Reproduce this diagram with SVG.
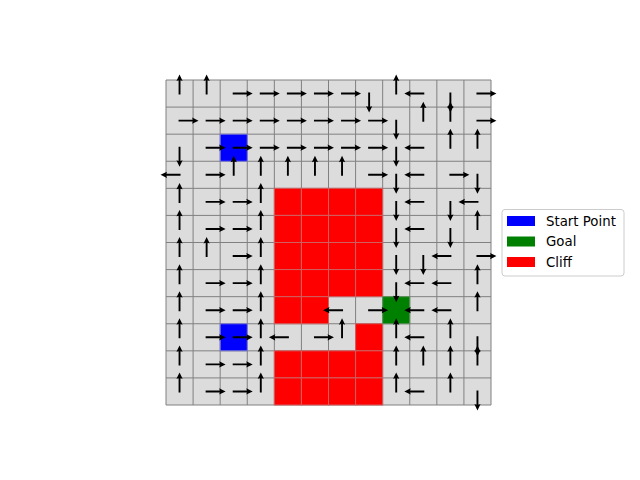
<svg xmlns="http://www.w3.org/2000/svg" xmlns:xlink="http://www.w3.org/1999/xlink" width="640" height="480" viewBox="0 0 640 480">
<style>
.bg{fill:#dcdcdc}
.grid{fill:none;stroke:#808080;stroke-width:1}
.start{fill:#0000ff;stroke:#7f7fd0;stroke-width:1}
.goal{fill:#008000;stroke:#5f8f5f;stroke-width:1}
.cliff{fill:#ff0000;stroke:#d06060;stroke-width:1}
.lgtxt{font-family:"DejaVu Sans",sans-serif;font-size:13.33px;fill:#000}
</style>
<defs>
<path id="a" d="M-1,-0.95 H13.2 L12.6,-3.1 L19,0 L12.6,3.1 L13.2,0.95 H-1 Z" fill="#000"/>
</defs>
<rect width="640" height="480" fill="#fff"/>
<g id="board">
<rect class="bg" x="166" y="80" width="325" height="325"/>
<path class="grid" d="M166,80V405M193.08,80V405M220.17,80V405M247.25,80V405M274.33,80V405M301.42,80V405M328.5,80V405M355.58,80V405M382.67,80V405M409.75,80V405M436.83,80V405M463.92,80V405M491,80V405M166,80H491M166,107.08H491M166,134.17H491M166,161.25H491M166,188.33H491M166,215.42H491M166,242.5H491M166,269.58H491M166,296.67H491M166,323.75H491M166,350.83H491M166,377.92H491M166,405H491"/>
</g>
<g id="cliff">
<rect class="cliff" x="274.33" y="188.33" width="27.08" height="27.08"/><rect class="cliff" x="301.42" y="188.33" width="27.08" height="27.08"/><rect class="cliff" x="328.5" y="188.33" width="27.08" height="27.08"/><rect class="cliff" x="355.58" y="188.33" width="27.08" height="27.08"/>
<rect class="cliff" x="274.33" y="215.42" width="27.08" height="27.08"/><rect class="cliff" x="301.42" y="215.42" width="27.08" height="27.08"/><rect class="cliff" x="328.5" y="215.42" width="27.08" height="27.08"/><rect class="cliff" x="355.58" y="215.42" width="27.08" height="27.08"/>
<rect class="cliff" x="274.33" y="242.5" width="27.08" height="27.08"/><rect class="cliff" x="301.42" y="242.5" width="27.08" height="27.08"/><rect class="cliff" x="328.5" y="242.5" width="27.08" height="27.08"/><rect class="cliff" x="355.58" y="242.5" width="27.08" height="27.08"/>
<rect class="cliff" x="274.33" y="269.58" width="27.08" height="27.08"/><rect class="cliff" x="301.42" y="269.58" width="27.08" height="27.08"/><rect class="cliff" x="328.5" y="269.58" width="27.08" height="27.08"/><rect class="cliff" x="355.58" y="269.58" width="27.08" height="27.08"/>
<rect class="cliff" x="274.33" y="296.67" width="27.08" height="27.08"/><rect class="cliff" x="301.42" y="296.67" width="27.08" height="27.08"/>
<rect class="cliff" x="355.58" y="323.75" width="27.08" height="27.08"/>
<rect class="cliff" x="274.33" y="350.83" width="27.08" height="27.08"/><rect class="cliff" x="301.42" y="350.83" width="27.08" height="27.08"/><rect class="cliff" x="328.5" y="350.83" width="27.08" height="27.08"/><rect class="cliff" x="355.58" y="350.83" width="27.08" height="27.08"/>
<rect class="cliff" x="274.33" y="377.92" width="27.08" height="27.08"/><rect class="cliff" x="301.42" y="377.92" width="27.08" height="27.08"/><rect class="cliff" x="328.5" y="377.92" width="27.08" height="27.08"/><rect class="cliff" x="355.58" y="377.92" width="27.08" height="27.08"/>
</g>
<g id="start1"><rect class="start" x="220.17" y="134.17" width="27.08" height="27.08"/></g>
<g id="start2"><rect class="start" x="220.17" y="323.75" width="27.08" height="27.08"/></g>
<g id="goal"><rect class="goal" x="382.67" y="296.67" width="27.08" height="27.08"/></g>
<g id="arrows">
<!-- row 0 -->
<use href="#a" transform="translate(179.54 93.54) rotate(-90)"/><use href="#a" transform="translate(206.63 93.54) rotate(-90)"/><use href="#a" transform="translate(233.71 93.54)"/><use href="#a" transform="translate(260.79 93.54)"/><use href="#a" transform="translate(287.88 93.54)"/><use href="#a" transform="translate(314.96 93.54)"/><use href="#a" transform="translate(342.04 93.54)"/><use href="#a" transform="translate(369.13 93.54) rotate(90)"/><use href="#a" transform="translate(396.21 93.54) rotate(-90)"/><use href="#a" transform="translate(423.29 93.54) rotate(180)"/><use href="#a" transform="translate(450.38 93.54) rotate(90)"/><use href="#a" transform="translate(477.46 93.54)"/>
<!-- row 1 -->
<use href="#a" transform="translate(179.54 120.63)"/><use href="#a" transform="translate(206.63 120.63)"/><use href="#a" transform="translate(233.71 120.63)"/><use href="#a" transform="translate(260.79 120.63)"/><use href="#a" transform="translate(287.88 120.63)"/><use href="#a" transform="translate(314.96 120.63)"/><use href="#a" transform="translate(342.04 120.63)"/><use href="#a" transform="translate(369.13 120.63)"/><use href="#a" transform="translate(396.21 120.63) rotate(90)"/><use href="#a" transform="translate(423.29 120.63) rotate(-90)"/><use href="#a" transform="translate(450.38 120.63) rotate(-90)"/><use href="#a" transform="translate(477.46 120.63)"/>
<!-- row 2 -->
<use href="#a" transform="translate(179.54 147.71) rotate(90)"/><use href="#a" transform="translate(206.63 147.71)"/><use href="#a" transform="translate(233.71 147.71)"/><use href="#a" transform="translate(260.79 147.71)"/><use href="#a" transform="translate(287.88 147.71)"/><use href="#a" transform="translate(314.96 147.71)"/><use href="#a" transform="translate(342.04 147.71)"/><use href="#a" transform="translate(369.13 147.71)"/><use href="#a" transform="translate(396.21 147.71) rotate(90)"/><use href="#a" transform="translate(423.29 147.71) rotate(180)"/><use href="#a" transform="translate(450.38 147.71) rotate(-90)"/><use href="#a" transform="translate(477.46 147.71) rotate(-90)"/>
<!-- row 3 -->
<use href="#a" transform="translate(179.54 174.79) rotate(180)"/><use href="#a" transform="translate(206.63 174.79)"/><use href="#a" transform="translate(233.71 174.79) rotate(-90)"/><use href="#a" transform="translate(260.79 174.79) rotate(-90)"/><use href="#a" transform="translate(287.88 174.79) rotate(-90)"/><use href="#a" transform="translate(314.96 174.79) rotate(-90)"/><use href="#a" transform="translate(342.04 174.79) rotate(-90)"/><use href="#a" transform="translate(369.13 174.79)"/><use href="#a" transform="translate(396.21 174.79) rotate(90)"/><use href="#a" transform="translate(423.29 174.79) rotate(180)"/><use href="#a" transform="translate(450.38 174.79)"/><use href="#a" transform="translate(477.46 174.79) rotate(90)"/>
<!-- row 4 -->
<use href="#a" transform="translate(179.54 201.88) rotate(-90)"/><use href="#a" transform="translate(206.63 201.88)"/><use href="#a" transform="translate(233.71 201.88)"/><use href="#a" transform="translate(260.79 201.88) rotate(-90)"/><use href="#a" transform="translate(396.21 201.88) rotate(90)"/><use href="#a" transform="translate(423.29 201.88) rotate(180)"/><use href="#a" transform="translate(450.38 201.88) rotate(90)"/><use href="#a" transform="translate(477.46 201.88) rotate(180)"/>
<!-- row 5 -->
<use href="#a" transform="translate(179.54 228.96) rotate(-90)"/><use href="#a" transform="translate(206.63 228.96)"/><use href="#a" transform="translate(233.71 228.96)"/><use href="#a" transform="translate(260.79 228.96) rotate(-90)"/><use href="#a" transform="translate(396.21 228.96) rotate(90)"/><use href="#a" transform="translate(423.29 228.96) rotate(180)"/><use href="#a" transform="translate(450.38 228.96) rotate(90)"/><use href="#a" transform="translate(477.46 228.96) rotate(-90)"/>
<!-- row 6 -->
<use href="#a" transform="translate(179.54 256.04) rotate(-90)"/><use href="#a" transform="translate(206.63 256.04) rotate(-90)"/><use href="#a" transform="translate(233.71 256.04)"/><use href="#a" transform="translate(260.79 256.04) rotate(-90)"/><use href="#a" transform="translate(396.21 256.04) rotate(90)"/><use href="#a" transform="translate(423.29 256.04) rotate(90)"/><use href="#a" transform="translate(450.38 256.04) rotate(180)"/><use href="#a" transform="translate(477.46 256.04)"/>
<!-- row 7 -->
<use href="#a" transform="translate(179.54 283.13) rotate(-90)"/><use href="#a" transform="translate(206.63 283.13)"/><use href="#a" transform="translate(233.71 283.13)"/><use href="#a" transform="translate(260.79 283.13) rotate(-90)"/><use href="#a" transform="translate(396.21 283.13) rotate(90)"/><use href="#a" transform="translate(423.29 283.13) rotate(180)"/><use href="#a" transform="translate(450.38 283.13) rotate(180)"/><use href="#a" transform="translate(477.46 283.13) rotate(-90)"/>
<!-- row 8 -->
<use href="#a" transform="translate(179.54 310.21) rotate(-90)"/><use href="#a" transform="translate(206.63 310.21)"/><use href="#a" transform="translate(233.71 310.21)"/><use href="#a" transform="translate(260.79 310.21) rotate(-90)"/><use href="#a" transform="translate(342.04 310.21) rotate(180)"/><use href="#a" transform="translate(369.13 310.21)"/><use href="#a" transform="translate(423.29 310.21) rotate(180)"/><use href="#a" transform="translate(450.38 310.21) rotate(180)"/><use href="#a" transform="translate(477.46 310.21) rotate(-90)"/>
<!-- row 9 -->
<use href="#a" transform="translate(179.54 337.29) rotate(-90)"/><use href="#a" transform="translate(206.63 337.29)"/><use href="#a" transform="translate(233.71 337.29)"/><use href="#a" transform="translate(260.79 337.29) rotate(-90)"/><use href="#a" transform="translate(287.88 337.29) rotate(180)"/><use href="#a" transform="translate(314.96 337.29)"/><use href="#a" transform="translate(342.04 337.29) rotate(-90)"/><use href="#a" transform="translate(396.21 337.29) rotate(-90)"/><use href="#a" transform="translate(423.29 337.29) rotate(180)"/><use href="#a" transform="translate(450.38 337.29) rotate(-90)"/><use href="#a" transform="translate(477.46 337.29) rotate(90)"/>
<!-- row 10 -->
<use href="#a" transform="translate(179.54 364.38) rotate(-90)"/><use href="#a" transform="translate(206.63 364.38)"/><use href="#a" transform="translate(233.71 364.38)"/><use href="#a" transform="translate(260.79 364.38) rotate(-90)"/><use href="#a" transform="translate(396.21 364.38) rotate(-90)"/><use href="#a" transform="translate(423.29 364.38) rotate(-90)"/><use href="#a" transform="translate(450.38 364.38) rotate(-90)"/><use href="#a" transform="translate(477.46 364.38) rotate(-90)"/>
<!-- row 11 -->
<use href="#a" transform="translate(179.54 391.46) rotate(-90)"/><use href="#a" transform="translate(206.63 391.46)"/><use href="#a" transform="translate(233.71 391.46)"/><use href="#a" transform="translate(260.79 391.46) rotate(-90)"/><use href="#a" transform="translate(396.21 391.46) rotate(-90)"/><use href="#a" transform="translate(423.29 391.46) rotate(180)"/><use href="#a" transform="translate(450.38 391.46) rotate(-90)"/><use href="#a" transform="translate(477.46 391.46) rotate(90)"/>
</g>
<g id="legend">
<rect x="502" y="209.5" width="122" height="66.5" rx="3" fill="#fff" fill-opacity="0.8" stroke="#cccccc" stroke-width="1"/>
<rect x="507" y="216" width="28" height="10" fill="#0000ff"/>
<text class="lgtxt" x="546" y="225.5">Start Point</text>
<rect x="507" y="236.5" width="28" height="10" fill="#008000"/>
<text class="lgtxt" x="546" y="246">Goal</text>
<rect x="507" y="257" width="28" height="10" fill="#ff0000"/>
<text class="lgtxt" x="546" y="266.5">Cliff</text>
</g>
</svg>
